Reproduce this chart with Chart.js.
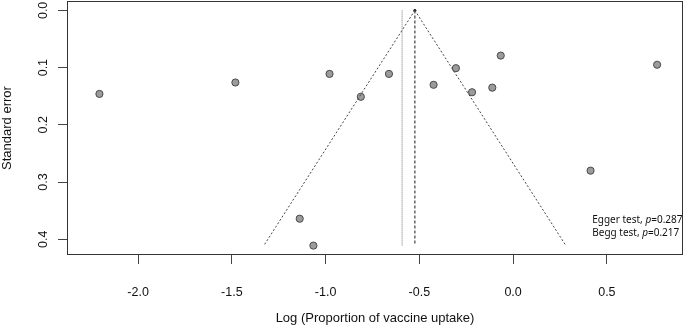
<!DOCTYPE html>
<html>
<head>
<meta charset="utf-8">
<script src="https://cdn.jsdelivr.net/npm/chart.js@4.4.1/dist/chart.umd.min.js"></script>
<style>
  html, body { margin: 0; padding: 0; background: #fff; }
  #wrap { width: 685px; height: 327px; }
</style>
</head>
<body>
<div id="wrap"><canvas id="funnel"></canvas></div>
<script>
// study estimates
const studyLogProp = [-2.206, -1.481, -0.979, -0.812, -0.662, -0.424, -0.305, -0.219, -0.111, -0.066, 0.768, 0.413, -1.138, -1.065];
const studySE      = [0.146, 0.126, 0.111, 0.151, 0.111, 0.130, 0.101, 0.143, 0.135, 0.079, 0.095, 0.280, 0.364, 0.411];

const pooled = -0.524;      // dashed reference line / funnel apex
const adjusted = -0.592;    // dotted line
const seMax = 0.411;
const funnelLeft = [pooled, pooled - 1.96 * seMax];
const funnelRight = [pooled, pooled + 1.96 * seMax];
const funnelSE = [0, seMax];

const xTicks = [-2.0, -1.5, -1.0, -0.5, 0.0, 0.5];
const yTicks = [0.0, 0.1, 0.2, 0.3, 0.4];
const notes = ['Egger test, ', 'p', '=0.287', 'Begg test, ', 'p', '=0.217'];

const pts = studyLogProp.map((x, i) => ({ x: x, y: studySE[i] }));

const frame = {
    id: 'frame',
    afterDraw(chart) {
        const { ctx, chartArea: a, scales } = chart;
        ctx.save();
        ctx.strokeStyle = '#333';
        ctx.lineWidth = 1;
        ctx.strokeRect(Math.round(a.left) + 0.5, Math.round(a.top) + 0.5,
            Math.round(a.right - a.left) - 1, Math.round(a.bottom - a.top) - 1);

        // test results
        ctx.fillStyle = '#111';
        ctx.textBaseline = 'middle';
        const x0 = scales.x.getPixelForValue(0.422);
        const lines = [[notes[0], notes[1], notes[2], 0.367], [notes[3], notes[4], notes[5], 0.389]];
        lines.forEach(l => {
            const y = scales.y.getPixelForValue(l[3]);
            let x = x0;
            ctx.font = '10px "Noto Sans"';
            ctx.fillText(l[0], x, y);
            x += ctx.measureText(l[0]).width;
            ctx.font = 'italic 10px "Noto Sans"';
            ctx.fillText(l[1], x, y);
            x += ctx.measureText(l[1]).width;
            ctx.font = '10px "Noto Sans"';
            ctx.fillText(l[2], x, y);
        });
        ctx.restore();
    }
};

new Chart(document.getElementById('funnel'), {
    type: 'scatter',
    data: {
        datasets: [
            {
                data: funnelLeft.map((x, i) => ({ x: x, y: funnelSE[i] })),
                type: 'line', borderColor: '#444', borderWidth: 1, borderDash: [2, 2],
                pointRadius: 0, fill: false
            },
            {
                data: funnelRight.map((x, i) => ({ x: x, y: funnelSE[i] })),
                type: 'line', borderColor: '#444', borderWidth: 1, borderDash: [2, 2],
                pointRadius: 0, fill: false
            },
            {
                data: [{ x: pooled, y: 0 }, { x: pooled, y: seMax }],
                type: 'line', borderColor: '#666', borderWidth: 1.5, borderDash: [3, 2],
                pointRadius: 0, fill: false
            },
            {
                data: [{ x: adjusted, y: 0 }, { x: adjusted, y: seMax }],
                type: 'line', borderColor: '#777', borderWidth: 1, borderDash: [1, 1],
                pointRadius: 0, fill: false
            },
            {
                data: [{ x: pooled, y: 0 }],
                pointRadius: 1.5, backgroundColor: '#000', borderColor: '#000', borderWidth: 0
            },
            {
                data: pts,
                pointRadius: 3.6, backgroundColor: '#9b9b9b', borderColor: '#4a4a4a', borderWidth: 1
            }
        ]
    },
    options: {
        responsive: true,
        maintainAspectRatio: false,
        animation: false,
        layout: { autoPadding: false, padding: { left: 0, right: 2, top: 1, bottom: 0 } },
        plugins: { legend: { display: false }, tooltip: { enabled: false } },
        scales: {
            x: {
                type: 'linear',
                min: -2.379, max: 0.906,
                afterBuildTicks: s => { s.ticks = xTicks.map(v => ({ value: v })); },
                afterFit: s => { s.height = 72; s.paddingLeft = 0; s.paddingRight = 0; },
                grid: { drawOnChartArea: false, drawTicks: true, tickLength: 9, color: '#444' },
                border: { display: false },
                ticks: {
                    padding: 21, color: '#111', maxRotation: 0,
                    font: { family: '"Liberation Sans", Arial, sans-serif', size: 12.5 },
                    callback: v => v.toFixed(1)
                },
                title: {
                    display: true, text: 'Log (Proportion of vaccine uptake)', color: '#111',
                    font: { family: '"Liberation Sans", Arial, sans-serif', size: 13 },
                    padding: { top: 0, bottom: 1 }
                }
            },
            y: {
                type: 'linear',
                reverse: true,
                min: -0.0164, max: 0.4274,
                afterBuildTicks: s => { s.ticks = yTicks.map(v => ({ value: v })); },
                afterFit: s => { s.width = 67; s.paddingTop = 0; s.paddingBottom = 0; },
                grid: { drawOnChartArea: false, drawTicks: true, tickLength: 9, color: '#444' },
                border: { display: false },
                ticks: {
                    padding: 6, color: '#111', minRotation: 90, maxRotation: 90,
                    crossAlign: 'center',
                    font: { family: '"Liberation Sans", Arial, sans-serif', size: 12.5 },
                    callback: v => v.toFixed(1)
                },
                title: {
                    display: true, text: 'Standard error', color: '#111',
                    font: { family: '"Liberation Sans", Arial, sans-serif', size: 13 },
                    padding: { top: 0, bottom: 0 }
                }
            }
        }
    },
    plugins: [frame]
});
</script>
</body>
</html>
